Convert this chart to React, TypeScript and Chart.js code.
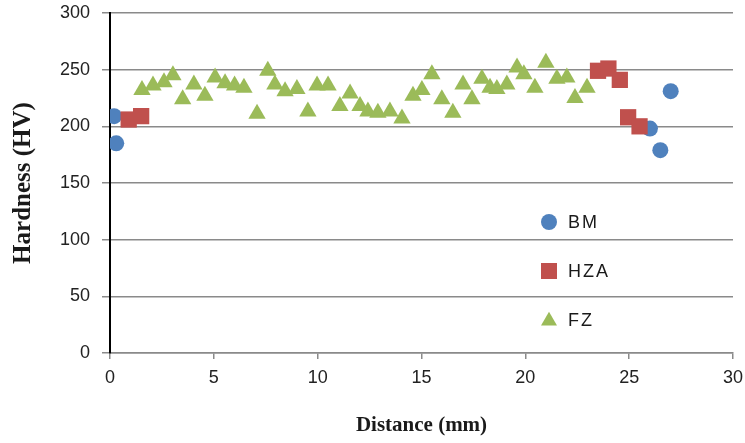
import React, { useEffect, useRef } from 'react';
import { Chart, registerables } from 'chart.js';

Chart.register(...registerables);

// Base metal (BM)
const BM_X = [0.2, 0.3, 26.0, 26.5, 27.0];
const BM_Y = [209, 185, 198, 179, 231];

// Heat affected zone (HZA)
const HZA_X = [0.9, 1.5, 23.5, 24.0, 24.55, 24.95, 25.5];
const HZA_Y = [206, 209, 249, 251, 241, 208, 200];

// Fusion zone (FZ)
const FZ_X = [
  1.54, 2.07, 2.6, 3.03, 3.5, 4.04, 4.57, 5.06, 5.54, 6.0, 6.45, 7.08, 7.6, 7.94, 8.43,
  9.0, 9.53, 9.97, 10.5, 11.07, 11.56, 12.04, 12.42, 12.9, 13.48, 14.06, 14.59, 15.02,
  15.5, 15.98, 16.51, 17.0, 17.43, 17.91, 18.3, 18.63, 19.11, 19.6, 19.93, 20.46, 20.99,
  21.52, 22.0, 22.39, 22.97,
];
const FZ_Y = [
  232, 236, 239, 245, 224, 237, 227, 243, 238, 236, 234, 211, 249, 237, 231,
  233, 213, 236, 236, 218, 229, 218, 213, 212, 213, 207, 227, 232,
  246, 224, 212, 237, 224, 242, 234, 233, 237, 252, 246, 234, 256,
  242, 243, 225, 234,
];

const SERIES_NAMES = ['BM', 'HZA', 'FZ'];
const X_MIN = 0;
const X_MAX = 30;
const X_STEP = 5;
const Y_MIN = 0;
const Y_MAX = 300;
const Y_STEP = 50;

const COLORS = ['#4f81bd', '#c0504d', '#9bbb59'];
const toPoints = (xs: number[], ys: number[]) => xs.map((x, i) => ({ x, y: ys[i] }));

function drawMarker(ctx: CanvasRenderingContext2D, style: string, x: number, y: number, s: number, color: string) {
  ctx.save();
  ctx.fillStyle = color;
  ctx.beginPath();
  if (style === 'circle') {
    ctx.arc(x, y, s, 0, Math.PI * 2);
  } else if (style === 'rect') {
    ctx.rect(x - s, y - s, 2 * s, 2 * s);
  } else {
    const h = s * 1.7;
    ctx.moveTo(x, y - h * 0.6);
    ctx.lineTo(x + s, y + h * 0.4);
    ctx.lineTo(x - s, y + h * 0.4);
    ctx.closePath();
  }
  ctx.fill();
  ctx.restore();
}

const insideLegend = {
  id: 'insideLegend',
  afterDatasetsDraw(chart: any, _args: any, opts: any) {
    const ctx: CanvasRenderingContext2D = chart.ctx;
    const sizes = [8, 8, 8];
    chart.data.datasets.forEach((ds: any, i: number) => {
      const y = opts.y0 + i * opts.dy;
      drawMarker(ctx, ds.pointStyle, opts.markerX, y, sizes[i], ds.backgroundColor);
      ctx.save();
      ctx.fillStyle = '#1a1a1a';
      ctx.font = '18px "Liberation Sans", Arial, sans-serif';
      (ctx as any).letterSpacing = '2px';
      ctx.textBaseline = 'middle';
      ctx.textAlign = 'left';
      ctx.fillText(ds.label, opts.textX, y + 1);
      ctx.restore();
    });
  },
};

export default function App() {
  const ref = useRef<HTMLCanvasElement | null>(null);

  useEffect(() => {
    document.body.style.margin = '0';
    if (!ref.current) return;
    const chart = new Chart(ref.current, {
      type: 'scatter',
      data: {
        datasets: [
          {
            label: SERIES_NAMES[0],
            data: toPoints(BM_X, BM_Y),
            pointStyle: 'circle',
            pointRadius: 8,
            backgroundColor: COLORS[0],
            borderColor: COLORS[0],
            borderWidth: 0,
            order: 3,
          },
          {
            label: SERIES_NAMES[1],
            data: toPoints(HZA_X, HZA_Y),
            pointStyle: 'rect',
            pointRadius: 11.5,
            backgroundColor: COLORS[1],
            borderColor: COLORS[1],
            borderWidth: 0,
            order: 2,
          },
          {
            label: SERIES_NAMES[2],
            data: toPoints(FZ_X, FZ_Y),
            pointStyle: 'triangle',
            pointRadius: 10,
            backgroundColor: COLORS[2],
            borderColor: COLORS[2],
            borderWidth: 0,
            order: 1,
          },
        ],
      },
      options: {
        responsive: false,
        animation: false,
        devicePixelRatio: 1,
        layout: { padding: { top: 13, right: 12, left: 0, bottom: 0 } },
        plugins: {
          legend: { display: false },
          tooltip: { enabled: false },
          insideLegend: { markerX: 549, textX: 568, y0: 222, dy: 49 },
        } as any,
        scales: {
          x: {
            type: 'linear',
            min: X_MIN,
            max: X_MAX,
            ticks: {
              stepSize: X_STEP,
              padding: 8,
              color: '#222',
              font: { family: '"Liberation Sans", Arial, sans-serif', size: 18 },
            },
            grid: {
              drawOnChartArea: false,
              drawTicks: true,
              tickLength: 6,
              color: '#8a8a8a',
              lineWidth: 1.5,
            },
            border: { display: true, color: '#8a8a8a', width: 1.5 },
            title: {
              display: true,
              text: 'Distance (mm)',
              color: '#1a1a1a',
              font: { family: '"Liberation Serif", "Times New Roman", serif', size: 21, weight: 'bold' },
              padding: { top: 0, bottom: 5 },
            },
            afterFit: (scale: any) => {
              scale.height = 90;
              scale.paddingLeft = 0;
              scale.paddingRight = 0;
            },
          },
          y: {
            type: 'linear',
            min: Y_MIN,
            max: Y_MAX,
            ticks: {
              stepSize: Y_STEP,
              padding: 12,
              color: '#222',
              font: { family: '"Liberation Sans", Arial, sans-serif', size: 18 },
            },
            grid: {
              drawOnChartArea: true,
              drawTicks: true,
              tickLength: 8,
              color: '#8a8a8a',
              lineWidth: 1.5,
            },
            border: { display: true, color: '#000', width: 2 },
            title: {
              display: true,
              text: 'Hardness (HV)',
              color: '#1a1a1a',
              font: { family: '"Liberation Serif", "Times New Roman", serif', size: 25, weight: 'bold' },
              padding: { top: 9, bottom: 0 },
            },
            afterFit: (scale: any) => {
              scale.width = 110;
              scale.paddingTop = 0;
              scale.paddingBottom = 0;
            },
          },
        },
      },
      plugins: [insideLegend],
    });
    return () => chart.destroy();
  }, []);

  return (
    <div style={{ width: 745, height: 443, background: '#fff' }}>
      <canvas ref={ref} width={745} height={443} style={{ width: 745, height: 443, display: 'block' }} />
    </div>
  );
}
